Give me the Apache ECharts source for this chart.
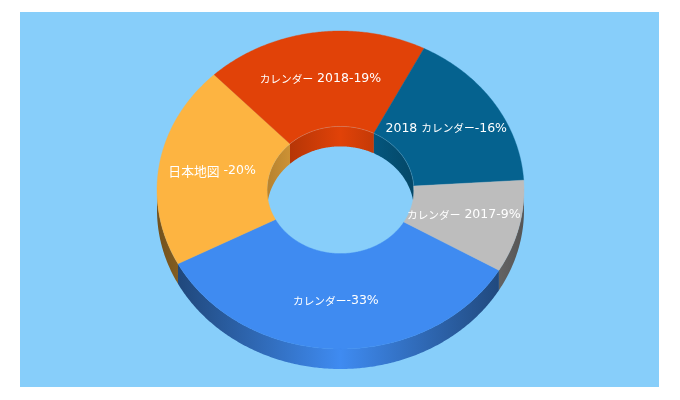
<!DOCTYPE html>
<html>
<head>
<meta charset="utf-8">
<style>html,body{margin:0;padding:0;background:#fff}#c{width:680px;height:400px}</style>
<script src="https://cdn.jsdelivr.net/npm/echarts@6/dist/echarts.min.js"></script>
</head>
<body>
<div id="c"></div>
<script>
// Slices, clockwise (screen) beginning at the grey / blue boundary
var categories = ['カレンダー', '日本地図 ', 'カレンダー 2018', '2018 カレンダー', 'カレンダー 2017'];
var shares = [33.9, 20.6, 19.6, 16.5, 9.4];
var colors = ['#3F8BF1', '#FDB441', '#E14208', '#05628F', '#BDBDBD'];

var CX = 340.5, CY = 190, RX = 183.5, RY = 159, HOLE = 0.4, DEPTH = 20, START = 30.3;
var total = shares.reduce(function (a, b) { return a + b; }, 0);

function span(i) {
  var before = 0;
  for (var k = 0; k < i; k++) before += shares[k];
  return [START + before / total * 360, START + (before + shares[i]) / total * 360];
}
function pt(deg, f, dy) {
  var a = deg * Math.PI / 180;
  return [CX + RX * f * Math.cos(a), CY + (dy || 0) + RY * f * Math.sin(a)];
}
function arc(a, b, f, dy) {
  var out = [], n = Math.max(2, Math.ceil(Math.abs(b - a) * 2));
  for (var i = 0; i <= n; i++) out.push(pt(a + (b - a) * i / n, f, dy));
  return out;
}
function shade(hex, k) {
  var n = parseInt(hex.slice(1), 16);
  return 'rgb(' + [(n >> 16) & 255, (n >> 8) & 255, n & 255].map(function (v) { return Math.round(v * k); }).join(',') + ')';
}
function wallGradient(hex, f, edge) {
  return new echarts.graphic.LinearGradient(CX - RX * f, 0, CX + RX * f, 0, [
    { offset: 0, color: shade(hex, edge) },
    { offset: 0.5, color: shade(hex, 1) },
    { offset: 1, color: shade(hex, edge) }
  ], true);
}
function clip(s, lo, hi) {
  var res = [];
  [-360, 0, 360].forEach(function (o) {
    var a = Math.max(s[0] + o, lo), b = Math.min(s[1] + o, hi);
    if (b > a) res.push([a, b]);
  });
  return res;
}
function wallItem(i, lo, hi, f, edge) {
  var parts = clip(span(i), lo, hi).map(function (r) {
    return {
      type: 'polygon',
      shape: { points: arc(r[0], r[1], f, 0).concat(arc(r[1], r[0], f, DEPTH)) },
      style: { fill: wallGradient(colors[i], f, edge) }
    };
  });
  return { type: 'group', children: parts };
}
// Kana are set narrower and kanji wider than latin, as the proportional face in the picture does
function richLabel(s) {
  return s.replace(/[\u30A0-\u30FF]+/g, function (m) { return '{k|' + m + '}'; })
          .replace(/[\u4E00-\u9FFF]+/g, function (m) { return '{h|' + m + '}'; })
          .replace(/(^|\})([^{}]+)(?=\{|$)/g, function (_, a, m) { return a + '{l|' + m + '}'; });
}
var CJK = '"Noto Sans CJK JP",sans-serif';
var richStyles = {
  k: { font: '10.7px ' + CJK, fill: '#fff' },
  h: { font: '12.8px ' + CJK, fill: '#fff' },
  l: { font: '12.5px "DejaVu Sans",sans-serif', fill: '#fff' }
};

var data = categories.map(function (c, i) { return { name: c, value: shares[i] }; });

var option = {
  animation: false,
  backgroundColor: '#ffffff',
  graphic: [{
    type: 'rect', z: -10, silent: true,
    shape: { x: 20, y: 12, width: 639, height: 375 },
    style: { fill: '#87CEFA' }
  }],
  series: [
    {
      type: 'custom', coordinateSystem: 'none', z: 1, data: data, silent: true,
      renderItem: function (p) { return wallItem(p.dataIndex, 0, 180, 1, 0.45); }
    },
    {
      type: 'custom', coordinateSystem: 'none', z: 2, data: data, silent: true,
      renderItem: function (p) { return wallItem(p.dataIndex, 180, 360, HOLE, 0.72); }
    },
    {
      type: 'custom', coordinateSystem: 'none', z: 3, data: data, silent: true,
      renderItem: function (p) {
        var i = p.dataIndex, s = span(i), mid = (s[0] + s[1]) / 2, l = pt(mid, 0.7, -0.7);
        var rim = clip(s, 225, 360).map(function (r) {
          return {
            type: 'polyline',
            shape: { points: arc(r[0], r[1], HOLE, 0) },
            style: { fill: null, stroke: 'rgba(255,255,255,0.22)', lineWidth: 0.8 }
          };
        });
        return {
          type: 'group',
          children: [{
            type: 'polygon',
            shape: { points: arc(s[0], s[1], 1, 0).concat(arc(s[1], s[0], HOLE, 0)) },
            style: { fill: colors[i], stroke: colors[i], lineWidth: 0.4 }
          }].concat(rim, [{
            type: 'text', z2: 10,
            style: {
              x: l[0] - 1.7, y: l[1],
              text: richLabel(categories[i] + '-' + Math.floor(shares[i]) + '%'),
              rich: richStyles,
              fill: '#ffffff',
              font: '12.5px "DejaVu Sans",' + CJK,
              align: 'center', verticalAlign: 'middle'
            }
          }])
        };
      }
    }
  ]
};
var chart = echarts.init(document.getElementById('c'), null, { renderer: 'canvas', width: 680, height: 400 });
chart.setOption(option);
</script>
</body>
</html>
